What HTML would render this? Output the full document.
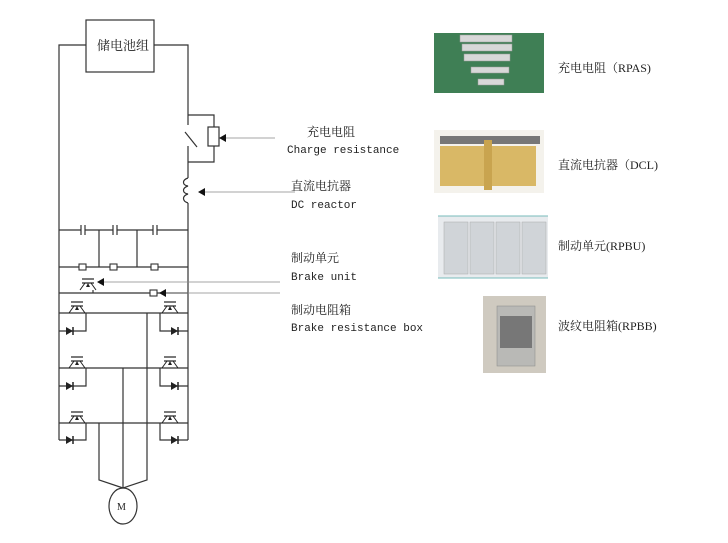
<!DOCTYPE html>
<html><head><meta charset="utf-8"><style>
html,body{margin:0;padding:0;background:#fff;}
svg{display:block;}
text{font-family:"Liberation Mono","Noto Serif CJK SC",monospace;fill:#222;}
.cn{font-family:"Liberation Serif","Noto Serif CJK SC",serif;}
</style></head><body>
<svg width="728" height="543" viewBox="0 0 728 543" xmlns="http://www.w3.org/2000/svg">
<defs>
<g id="tr"><line x1="-6" y1="-5" x2="6" y2="-5" stroke="#222" stroke-width="1.2"/><line x1="-6" y1="-1" x2="6" y2="-1" stroke="#222" stroke-width="1.2"/><path d="M-3 -1 L-8 6 M3 -1 L8 6" stroke="#222" fill="none"/><path d="M0 -1 l-2 4 l4 0z" fill="#222"/></g>
<g id="di"><path d="M-4 -4 L-4 4 L3 0Z" fill="#222"/><line x1="3" y1="-4" x2="3" y2="4" stroke="#222" stroke-width="1.5"/></g>
</defs>
<g stroke="#333" stroke-width="1.2" fill="none">
<rect x="86" y="20" width="68" height="52"/>
<path d="M86 45 H59 V440 M154 45 H188 V125 M188 146 V178 M188 203 V440"/>
<path d="M188 115 H214 V127 M214 146 V162 H188"/>
<rect x="208" y="127" width="11" height="19"/>
<path d="M185 132 L197 147"/>
<path d="M188 178 c-6 2 -6 7 0 8 c-6 2 -6 7 0 8 c-6 2 -6 7 0 9"/>
<!-- cap row -->
<path d="M59 230 H81 M85 230 H113 M117 230 H153 M157 230 H188"/>
<path d="M81 225 V235 M85 225 V235 M113 225 V235 M117 225 V235 M153 225 V235 M157 225 V235"/>
<path d="M99 230 V267 M137 230 V267"/>
<path d="M59 267 H188"/>
<path d="M59 293 H188"/>
<path d="M93 290 V293"/>
<path d="M59 313 H188 M59 368 H188 M59 423 H188"/>
<path d="M86 313 V331 H59 M86 368 V386 H59 M86 423 V440 H59"/>
<path d="M160 313 V331 H188 M160 368 V386 H188 M160 423 V440 H188"/>
<path d="M147 313 V480 L123 488 M123 368 V488 M99 423 V480 L123 488"/>
<ellipse cx="123" cy="506" rx="14" ry="18"/>
</g>
<g fill="#fff" stroke="#333" stroke-width="1.1">
<rect x="79" y="264" width="7" height="6"/><rect x="110" y="264" width="7" height="6"/><rect x="151" y="264" width="7" height="6"/>
<rect x="150" y="290" width="7" height="6"/>
</g>
<g fill="#fff"><rect x="70" y="298" width="14" height="14"/><rect x="163" y="298" width="14" height="14"/><rect x="70" y="353" width="14" height="14"/><rect x="163" y="353" width="14" height="14"/><rect x="70" y="408" width="14" height="14"/><rect x="163" y="408" width="14" height="14"/><rect x="81" y="276" width="14" height="14"/></g>
<use href="#tr" x="88" y="284"/>
<use href="#tr" x="77" y="307"/><use href="#tr" x="170" y="307"/>
<use href="#tr" x="77" y="362"/><use href="#tr" x="170" y="362"/>
<use href="#tr" x="77" y="417"/><use href="#tr" x="170" y="417"/>
<use href="#di" x="70" y="331"/><use href="#di" x="175" y="331"/>
<use href="#di" x="70" y="386"/><use href="#di" x="175" y="386"/>
<use href="#di" x="70" y="440"/><use href="#di" x="175" y="440"/>
<!-- arrows -->
<g stroke="#888" stroke-width="0.8"><line x1="226" y1="138" x2="275" y2="138"/><line x1="205" y1="192" x2="295" y2="192"/><line x1="104" y1="282" x2="280" y2="282"/><line x1="166" y1="293" x2="280" y2="293"/></g>
<g fill="#111"><path d="M219 138 l7 -4 v8z"/><path d="M198 192 l7 -4 v8z"/><path d="M97 282 l7 -4 v8z"/><path d="M159 293 l7 -4 v8z"/></g>
<text class="cn" x="97" y="50" font-size="13">储电池组</text>
<text class="cn" x="117" y="510" font-size="10">M</text>
<text class="cn" x="307" y="136" font-size="12">充电电阻</text>
<text x="287" y="153" font-size="11">Charge resistance</text>
<text class="cn" x="291" y="190" font-size="12">直流电抗器</text>
<text x="291" y="208" font-size="11">DC reactor</text>
<text class="cn" x="291" y="262" font-size="12">制动单元</text>
<text x="291" y="280" font-size="11">Brake unit</text>
<text class="cn" x="291" y="314" font-size="12">制动电阻箱</text>
<text x="291" y="331" font-size="11">Brake resistance box</text>
<text class="cn" x="558" y="72" font-size="12">充电电阻（RPAS)</text>
<text class="cn" x="558" y="169" font-size="12">直流电抗器（DCL)</text>
<text class="cn" x="558" y="250" font-size="12">制动单元(RPBU)</text>
<text class="cn" x="558" y="330" font-size="12">波纹电阻箱(RPBB)</text>
<!-- photos -->
<rect x="434" y="33" width="110" height="60" fill="#3f7f55"/>
<g fill="#d8d8d8" stroke="#999" stroke-width="0.5"><rect x="460" y="35" width="52" height="7"/><rect x="462" y="44" width="50" height="7"/><rect x="464" y="54" width="46" height="7"/><rect x="471" y="67" width="38" height="6"/><rect x="478" y="79" width="26" height="6"/></g>
<rect x="434" y="130" width="110" height="63" fill="#f4f2ec"/>
<rect x="440" y="136" width="100" height="8" fill="#777"/>
<rect x="440" y="146" width="44" height="40" fill="#d9b866"/><rect x="492" y="146" width="44" height="40" fill="#d9b866"/>
<rect x="484" y="140" width="8" height="50" fill="#c9a44f"/>
<rect x="438" y="216" width="110" height="62" fill="#e8ebee"/>
<g fill="#d0d4d8" stroke="#aaa" stroke-width="0.5"><rect x="444" y="222" width="24" height="52"/><rect x="470" y="222" width="24" height="52"/><rect x="496" y="222" width="24" height="52"/><rect x="522" y="222" width="24" height="52"/></g>
<line x1="438" y1="216" x2="548" y2="216" stroke="#7bb" /><line x1="438" y1="278" x2="548" y2="278" stroke="#7bb"/>
<rect x="483" y="296" width="63" height="77" fill="#cfcac0"/>
<rect x="497" y="306" width="38" height="60" fill="#b9b9b6" stroke="#888" stroke-width="0.5"/>
<rect x="500" y="316" width="32" height="32" fill="#777"/>
</svg>
</body></html>
